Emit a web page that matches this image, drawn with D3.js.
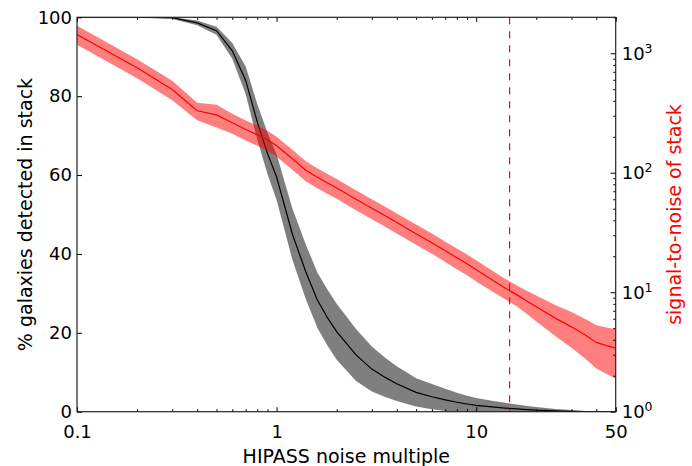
<!DOCTYPE html>
<html>

<head>
    <meta charset="UTF-8">
    <title>Stack detection vs noise</title>
    <script src="https://d3js.org/d3.v7.min.js"></script>
    <style>
        body { margin: 0; background: white; }
        text { font-family: "DejaVu Sans", sans-serif; }
        .tick-label { font-size: 18px; }
        .axis-title { font-size: 19px; }
    </style>
</head>

<body>
    <script>
        // noise multiples the stacks were computed at
        var noise = [0.1, 0.2, 0.3, 0.4, 0.5, 0.6, 0.7, 0.8, 0.9, 1.0, 1.2, 1.4, 1.6, 1.8, 2.0, 2.5, 3, 3.5, 4, 5,
            6, 7, 8, 9, 10, 12, 14, 16, 18, 20, 25, 30, 35, 40, 45, 50];

        // % galaxies detected in stack (left axis), mean and scatter
        var detMean = [100, 100, 99.9, 98.6, 96.6, 91.5, 84, 73.5, 65.5, 59.5, 45, 35.5, 28.3, 23.8, 20.3, 14.4, 10.8, 8.7, 7.1, 4.9,
            3.8, 3.0, 2.4, 1.95, 1.6, 1.2, 0.9, 0.7, 0.55, 0.4, 0.2, 0.1, 0.05, 0.02, 0.01, 0];
        var detStd = [0, 0, 0.3, 0.6, 1.0, 2.0, 3.5, 4.5, 5.2, 5.8, 6.5, 6.9, 7.0, 7.1, 7.1, 6.6, 5.7, 5.0, 4.4, 3.6,
            3.2, 2.8, 2.4, 2.1, 1.9, 1.6, 1.35, 1.1, 0.9, 0.8, 0.5, 0.3, 0.15, 0.1, 0.05, 0];

        // signal-to-noise of stack (right axis), mean and scatter
        var snrMean = [1437, 756, 497, 330, 305, 262, 230, 208, 189, 168, 131, 105, 91.6, 82, 74.6, 60, 50.5, 43.6, 38.3, 30.9,
            26, 22.2, 19.4, 17.3, 15.4, 12.7, 10.8, 9.5, 8.4, 7.55, 6.04, 5.13, 4.40, 3.80, 3.57, 3.40];
        var snrStd = [260, 137, 92, 55, 66, 50, 44, 40, 36, 32, 25, 20, 17.5, 15.5, 14, 11.5, 9.6, 8.3, 7.3, 5.9,
            5.0, 4.3, 3.8, 3.4, 3.1, 2.5, 2.1, 1.9, 1.85, 1.85, 1.75, 1.7, 1.6, 1.5, 1.5, 1.5];

        var cutNoise = 14.7; // dashed marker
        var xMajor = [0.1, 1, 10, 50];
        var yLeftTicks = [0, 20, 40, 60, 80, 100];
        var yRightMajor = [1, 10, 100, 1000];

        var width = 692, height = 466;
        var margin = { top: 17.3, right: 76.3, bottom: 54.3, left: 77 };
        var W = width - margin.left - margin.right, H = height - margin.top - margin.bottom;

        var svg = d3.select("body").append("svg")
            .attr("width", width).attr("height", height);

        var g = svg.append("g").attr("transform", "translate(" + margin.left + "," + margin.top + ")");

        svg.append("defs").append("clipPath").attr("id", "plot")
            .append("rect").attr("width", W).attr("height", H);

        var x = d3.scaleLog().domain([0.1, 50]).range([0, W]);
        var yL = d3.scaleLinear().domain([0, 100]).range([H, 0]);
        var yR = d3.scaleLog().domain([1, 2000]).range([H, 0]);

        var det = noise.map(function (n, i) { return { n: n, m: detMean[i], s: detStd[i] }; });
        var snr = noise.map(function (n, i) { return { n: n, m: snrMean[i], s: snrStd[i] }; });

        var plot = g.append("g").attr("clip-path", "url(#plot)");

        // detected fraction
        plot.append("path").datum(det)
            .attr("fill", "black").attr("fill-opacity", 0.5)
            .attr("d", d3.area()
                .x(function (d) { return x(d.n); })
                .y0(function (d) { return yL(Math.max(d.m - d.s, 0)); })
                .y1(function (d) { return yL(Math.min(d.m + d.s, 100)); }));
        plot.append("path").datum(det)
            .attr("fill", "none").attr("stroke", "black").attr("stroke-width", 1.2)
            .attr("d", d3.line().x(function (d) { return x(d.n); }).y(function (d) { return yL(d.m); }));

        // signal-to-noise
        plot.append("path").datum(snr)
            .attr("fill", "red").attr("fill-opacity", 0.5)
            .attr("d", d3.area()
                .x(function (d) { return x(d.n); })
                .y0(function (d) { return yR(d.m - d.s); })
                .y1(function (d) { return yR(d.m + d.s); }));
        plot.append("path").datum(snr)
            .attr("fill", "none").attr("stroke", "red").attr("stroke-width", 1.2)
            .attr("d", d3.line().x(function (d) { return x(d.n); }).y(function (d) { return yR(d.m); }));

        plot.append("line")
            .attr("x1", x(cutNoise)).attr("x2", x(cutNoise))
            .attr("y1", 0).attr("y2", H)
            .attr("stroke", "red").attr("stroke-width", 1.2)
            .attr("stroke-dasharray", "7,7");

        // minor tick values
        var xMinor = [];
        [0.1, 1, 10].forEach(function (dec) {
            for (var k = 2; k <= 9; k++) if (k * dec <= 50) xMinor.push(k * dec);
        });
        var yMinor = [];
        [1, 10, 100, 1000].forEach(function (dec) {
            for (var k = 2; k <= 9; k++) if (k * dec <= 2000) yMinor.push(k * dec);
        });

        function clean(sel) {
            sel.select(".domain").remove();
            sel.selectAll(".tick line").attr("stroke", "black");
        }

        // x axis bottom + top (ticks inward)
        var xb = g.append("g").attr("transform", "translate(0," + H + ")")
            .call(d3.axisBottom(x).tickValues(xMajor).tickSize(-4.5).tickPadding(14)
                .tickFormat(function (d) { return d < 1 ? d3.format(".1f")(d) : d3.format("d")(d); }));
        clean(xb);
        xb.selectAll("text").attr("class", "tick-label").attr("fill", "black").style("font-size", "18px");
        g.append("g").attr("transform", "translate(0," + H + ")")
            .call(d3.axisBottom(x).tickValues(xMinor).tickSize(-2.5).tickFormat("")).call(clean);
        g.append("g").call(d3.axisTop(x).tickValues(xMajor).tickSize(-4.5).tickFormat("")).call(clean);
        g.append("g").call(d3.axisTop(x).tickValues(xMinor).tickSize(-2.5).tickFormat("")).call(clean);

        // left axis
        var yl = g.append("g").call(d3.axisLeft(yL).tickValues(yLeftTicks).tickSize(-5).tickPadding(5));
        clean(yl);
        yl.selectAll("text").attr("fill", "black").style("font-size", "18px");

        // right log axis with powers of ten
        var yr = g.append("g").attr("transform", "translate(" + W + ",0)")
            .call(d3.axisRight(yR).tickValues(yRightMajor).tickSize(-5).tickPadding(6).tickFormat(""));
        clean(yr);
        g.append("g").attr("transform", "translate(" + W + ",0)")
            .call(d3.axisRight(yR).tickValues(yMinor).tickSize(-2.5).tickFormat("")).call(clean);
        yRightMajor.forEach(function (v) {
            var t = g.append("text").attr("x", W + 6).attr("y", yR(v)).attr("dy", "0.35em")
                .style("font-size", "18px").attr("fill", "black");
            t.append("tspan").text("10");
            t.append("tspan").attr("dy", "-0.55em").style("font-size", "12.5px")
                .text(Math.round(Math.log10(v)));
        });

        // frame
        g.append("rect").attr("width", W).attr("height", H)
            .attr("fill", "none").attr("stroke", "#222").attr("stroke-width", 1.2);

        // titles
        svg.append("text").attr("class", "axis-title")
            .attr("x", margin.left + W / 2).attr("y", 462.5)
            .attr("text-anchor", "middle").text("HIPASS noise multiple");
        svg.append("text").attr("class", "axis-title")
            .attr("transform", "translate(31.5," + (margin.top + H / 2) + ") rotate(-90)")
            .attr("text-anchor", "middle").text("% galaxies detected in stack");
        svg.append("text").attr("class", "axis-title")
            .attr("transform", "translate(681," + (margin.top + H / 2) + ") rotate(-90)")
            .attr("text-anchor", "middle").attr("fill", "red").text("signal-to-noise of stack");
    </script>
</body>

</html>
